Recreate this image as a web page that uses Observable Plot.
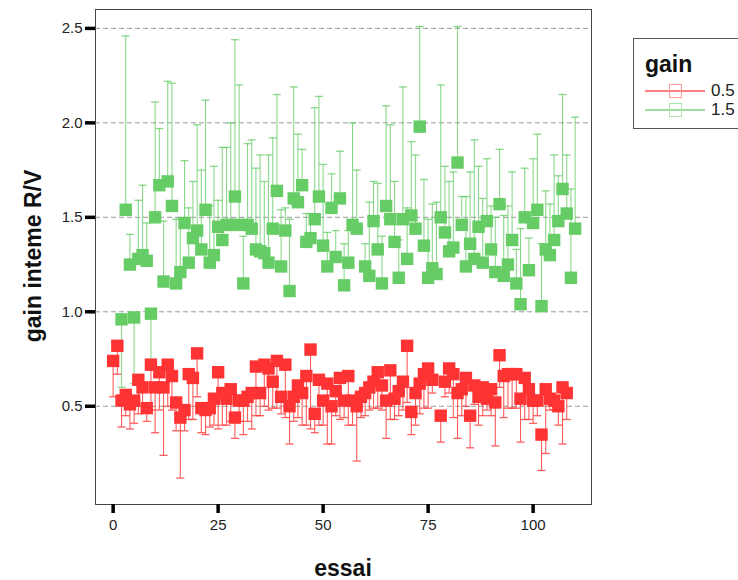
<!DOCTYPE html>
<html>
<head>
<meta charset="utf-8">
<script src="https://cdn.jsdelivr.net/npm/d3@7"></script>
<script src="https://cdn.jsdelivr.net/npm/@observablehq/plot@0.6"></script>
<style>
  html, body { margin: 0; padding: 0; background: #fff; overflow: hidden; }
  body { width: 738px; height: 580px; position: relative; font-family: "Liberation Sans", Arial, sans-serif; }
  #chart { position: absolute; left: 0; top: 0; }
  .ttl { position: absolute; font-weight: bold; font-size: 23px; color: #111; white-space: nowrap; }
  #legend { position: absolute; left: 633px; top: 38px; width: 130px; height: 91px; border: 1px solid #555; background: #fff; box-sizing: border-box; }
  #legend .lt { position: absolute; left: 11px; top: 12px; font-weight: bold; font-size: 23px; color: #111; }
  #legend .row { position: absolute; left: 11px; height: 20px; }
  #legend .row span { position: absolute; left: 66px; top: 0px; font-size: 17px; color: #222; line-height: 20px; }
</style>
</head>
<body>
<div id="chart"></div>
<div class="ttl" style="left:343px; top:555px; transform:translateX(-50%);">essai</div>
<div class="ttl" style="left:33px; top:256px; transform:translate(-50%,-50%) rotate(-90deg);">gain inteme R/V</div>
<div id="legend">
  <div class="lt">gain</div>
  <div class="row" style="top:42px;"><svg width="62" height="20"><line x1="0" y1="10" x2="60" y2="10" stroke="#ff8080" stroke-width="2"/><rect x="24.5" y="3.5" width="12" height="13" fill="none" stroke="#ff9a9a"/></svg><span>0.5</span></div>
  <div class="row" style="top:61px;"><svg width="62" height="20"><line x1="0" y1="10" x2="60" y2="10" stroke="#7fd07f" stroke-width="1.5"/><rect x="24.5" y="3.5" width="12" height="13" fill="none" stroke="#aee3ae"/></svg><span>1.5</span></div>
</div>
<script>
// ---- data ----
const gainLevels = ["0.5", "1.5"];
const yTicks = [0.5, 1.0, 1.5, 2.0, 2.5];
const xTicks = [0, 25, 50, 75, 100];

// series gain = 0.5 (red): essai, mean, lower end of error bar
const essaiA = [0,1,2,3,4,5,6,7,8,9,10,11,12,13,14,15,16,17,18,19,20,21,22,23,24,25,26,27,28,29,30,31,32,33,34,35,36,37,38,39,40,41,42,43,44,45,46,47,48,49,50,51,52,53,54,55,56,57,58,59,60,61,62,63,64,65,66,67,68,69,70,71,72,73,74,75,76,78,79,80,81,82,83,84,85,86,87,88,89,90,91,92,93,94,95,96,97,98,99,100,101,102,103,104,105,106,107,108];
const gainA = [0.74,0.82,0.53,0.56,0.51,0.53,0.64,0.60,0.49,0.72,0.60,0.68,0.60,0.72,0.66,0.52,0.44,0.48,0.67,0.65,0.78,0.49,0.48,0.49,0.54,0.68,0.57,0.54,0.59,0.44,0.53,0.53,0.55,0.57,0.71,0.57,0.72,0.70,0.63,0.74,0.55,0.72,0.50,0.55,0.61,0.57,0.66,0.80,0.46,0.64,0.53,0.62,0.50,0.58,0.65,0.53,0.66,0.53,0.50,0.55,0.57,0.60,0.63,0.68,0.61,0.53,0.69,0.54,0.58,0.63,0.82,0.47,0.57,0.62,0.67,0.70,0.64,0.45,0.63,0.70,0.67,0.57,0.59,0.65,0.45,0.61,0.55,0.60,0.54,0.59,0.52,0.77,0.66,0.67,0.67,0.67,0.54,0.65,0.59,0.53,0.53,0.35,0.59,0.54,0.53,0.50,0.60,0.57];
const lowA = [0.55,0.67,0.39,0.45,0.38,0.41,0.46,0.50,0.42,0.48,0.36,0.48,0.24,0.50,0.48,0.37,0.12,0.37,0.43,0.43,0.55,0.36,0.35,0.39,0.40,0.38,0.40,0.40,0.42,0.33,0.42,0.35,0.42,0.38,0.45,0.45,0.50,0.48,0.49,0.49,0.46,0.44,0.30,0.42,0.44,0.40,0.40,0.38,0.36,0.40,0.40,0.30,0.30,0.45,0.43,0.44,0.40,0.40,0.21,0.44,0.45,0.48,0.49,0.49,0.48,0.33,0.43,0.43,0.45,0.48,0.52,0.35,0.40,0.46,0.49,0.49,0.57,0.31,0.55,0.57,0.44,0.33,0.45,0.50,0.28,0.51,0.40,0.45,0.48,0.45,0.29,0.60,0.44,0.49,0.49,0.49,0.31,0.43,0.43,0.41,0.45,0.16,0.25,0.48,0.48,0.40,0.30,0.43];

// series gain = 1.5 (green): essai, mean, end of error bar
const essaiB = [2,3,4,5,6,7,8,9,10,11,12,13,14,15,16,17,18,19,20,21,22,23,24,25,26,27,28,29,30,31,32,33,34,35,36,37,38,39,40,41,42,43,44,45,46,47,48,49,50,51,52,53,54,55,56,57,58,60,61,62,63,64,65,66,67,68,69,70,71,72,73,74,75,76,77,78,79,80,81,82,83,84,85,86,87,88,89,90,91,92,93,94,95,96,97,98,99,100,101,102,103,104,105,106,107,108,109,110];
const gainB = [0.96,1.54,1.25,0.97,1.28,1.30,1.27,0.99,1.50,1.67,1.16,1.69,1.56,1.15,1.21,1.47,1.26,1.39,1.43,1.33,1.54,1.26,1.30,1.45,1.38,1.46,1.46,1.61,1.46,1.15,1.46,1.44,1.33,1.32,1.31,1.26,1.44,1.64,1.24,1.43,1.11,1.60,1.58,1.67,1.37,1.39,1.49,1.61,1.35,1.24,1.55,1.29,1.60,1.14,1.26,1.46,1.44,1.24,1.19,1.48,1.33,1.15,1.56,1.49,1.37,1.18,1.49,1.28,1.51,1.44,1.98,1.35,1.18,1.23,1.20,1.50,1.42,1.32,1.34,1.79,1.46,1.24,1.36,1.28,1.45,1.26,1.48,1.33,1.21,1.57,1.19,1.25,1.38,1.15,1.04,1.50,1.22,1.47,1.54,1.03,1.33,1.30,1.38,1.48,1.65,1.52,1.18,1.44];
const endB = [0.60,2.46,1.41,0.62,1.59,1.67,1.47,0.75,2.11,1.97,1.48,2.22,2.21,1.49,1.49,1.80,1.55,1.69,1.99,1.75,2.12,1.56,1.77,1.59,1.87,1.87,2.00,2.44,2.20,1.40,1.89,1.91,1.76,1.83,1.69,1.83,1.92,2.15,1.54,1.55,1.49,2.19,1.94,1.86,1.52,1.52,2.08,2.14,1.78,1.42,1.73,1.43,1.85,1.36,1.43,2.00,1.75,1.36,1.58,1.69,1.68,1.40,2.09,1.99,1.69,1.38,2.19,1.55,1.90,1.83,2.51,1.70,1.49,1.57,1.58,2.20,1.77,1.69,1.74,2.51,1.61,1.61,1.74,1.91,1.77,1.60,1.81,1.56,1.50,1.86,1.51,1.56,1.74,1.33,1.44,1.76,1.39,1.81,1.94,1.36,1.64,1.57,1.83,1.72,2.15,1.83,1.65,2.03];

// ---- build tables ----
const dataA = essaiA.map((e, i) => ({essai: e, gain: gainLevels[0], v: gainA[i], end: lowA[i]}));
const dataB = essaiB.map((e, i) => ({essai: e, gain: gainLevels[1], v: gainB[i], end: endB[i]}));
const colors = {"0.5": "#ff3333", "1.5": "#66cc66"};
const capSymbol = {draw(ctx) { ctx.moveTo(-4, 0); ctx.lineTo(4, 0); }};

function errMarks(data, col, op) {
  return [
    Plot.ruleX(data, {x: "essai", y1: "v", y2: "end", stroke: col, strokeWidth: 1.1, strokeOpacity: op}),
    Plot.dot(data, {x: "essai", y: "end", symbol: capSymbol, stroke: col, fill: "none", strokeWidth: 1.3, strokeOpacity: op})
  ];
}

const chart = Plot.plot({
  width: 738,
  height: 580,
  marginLeft: 95,
  marginRight: 147,
  marginTop: 9,
  marginBottom: 76,
  style: {fontFamily: "Liberation Sans, Arial, sans-serif", fontSize: "15px", color: "#222", background: "#fff"},
  x: {domain: [-4.2, 113.9], label: null},
  y: {domain: [-0.02, 2.6], label: null},
  marks: [
    Plot.ruleY(yTicks, {stroke: "#999", strokeDasharray: "5,3", strokeWidth: 1}),
    ...errMarks(dataB, colors["1.5"], 0.75),
    ...errMarks(dataA, colors["0.5"], 0.8),
    Plot.dot(dataB, {x: "essai", y: "v", symbol: "square", r: 7, fill: colors["1.5"]}),
    Plot.dot(dataA, {x: "essai", y: "v", symbol: "square", r: 7, fill: colors["0.5"]}),
    Plot.frame({stroke: "#444", strokeWidth: 1}),
    Plot.axisY(yTicks, {tickSize: 10, tickPadding: 3, stroke: "#000", strokeWidth: 3.5, tickFormat: d3.format(".1f"), fontSize: 15, fill: "#222", label: null}),
    Plot.axisX(xTicks, {tickSize: 9, tickPadding: 6, stroke: "#000", strokeWidth: 3.5, fontSize: 15, fill: "#222", label: null})
  ]
});
document.getElementById("chart").appendChild(chart);
</script>
</body>
</html>
